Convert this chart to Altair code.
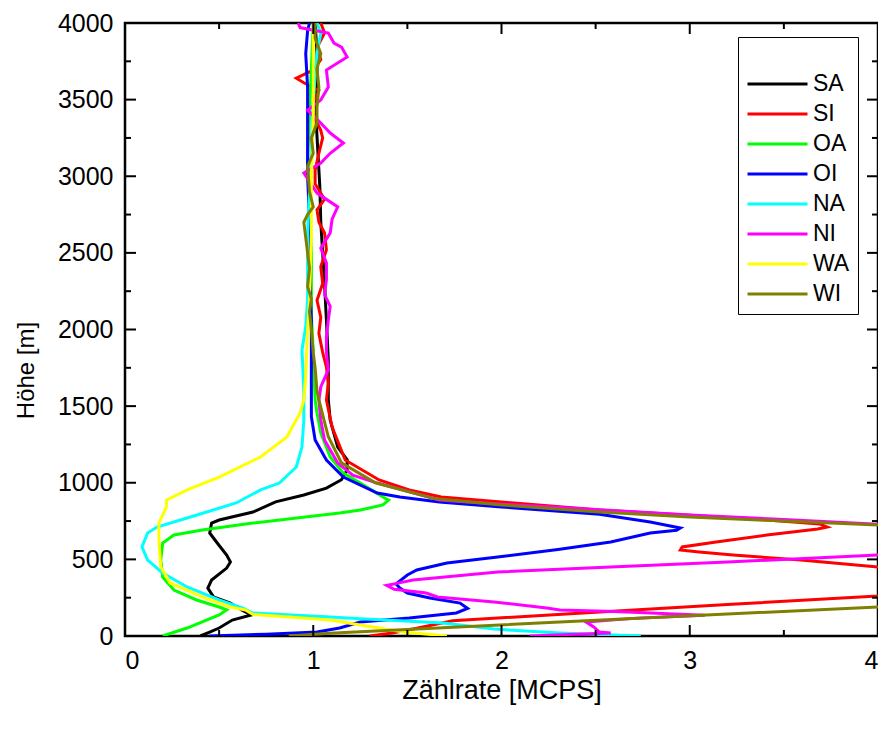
import altair as alt
import pandas as pd

SERIES = ["SA", "SI", "OA", "OI", "NA", "NI", "WA", "WI"]
COLORS = ["#000000", "#ff0000", "#00ff00", "#0000ff", "#00ffff", "#ff00ff", "#ffff00", "#808000"]

# (Zählrate [MCPS], Höhe [m]) along each profile, bottom to top
SA = [(0.40, 0), (0.45, 26), (0.50, 52), (0.57, 104), (0.67, 137), (0.62, 170), (0.56, 215),
      (0.47, 255), (0.44, 313), (0.46, 365), (0.54, 443), (0.56, 483), (0.54, 528), (0.49, 607),
      (0.45, 672), (0.46, 737), (0.50, 757), (0.68, 809), (0.80, 875), (0.95, 920), (1.07, 965),
      (1.15, 1020), (1.18, 1083), (1.18, 1150), (1.13, 1233), (1.09, 1410), (1.08, 1540),
      (1.08, 1800), (1.07, 2060), (1.06, 2300), (1.05, 2500), (1.04, 2700), (1.035, 2930),
      (1.025, 3150), (1.015, 3370), (1.02, 3600), (1.02, 3800), (1.01, 4000)]

SI = [(1.30, 0), (1.42, 20), (1.55, 50), (1.74, 100), (2.50, 155), (3.20, 205), (4.00, 261),
      (4.30, 300), (4.30, 440), (4.00, 450), (3.59, 496), (3.23, 528), (3.05, 548), (2.95, 561),
      (2.96, 581), (3.14, 613), (3.41, 659), (3.68, 698), (3.73, 711), (3.69, 731), (3.41, 757),
      (3.00, 788), (2.52, 822), (2.00, 874), (1.68, 907), (1.51, 953), (1.35, 1018), (1.17, 1148),
      (1.10, 1364), (1.07, 1540), (1.08, 1650), (1.07, 1755), (1.05, 1850), (1.03, 1975),
      (1.04, 2080), (1.02, 2190), (1.05, 2300), (1.04, 2410), (1.07, 2520), (1.06, 2630),
      (1.03, 2700), (1.02, 2780), (1.06, 2850), (1.01, 2950), (1.01, 3040), (1.03, 3150),
      (1.05, 3250), (1.04, 3300), (1.00, 3400), (1.00, 3478), (1.03, 3560), (0.95, 3610),
      (0.91, 3640), (0.96, 3670), (1.00, 3693), (1.04, 3760), (1.02, 3840), (1.06, 3935),
      (1.04, 4000)]

OA = [(0.20, 0), (0.33, 52), (0.50, 137), (0.54, 170), (0.50, 189), (0.38, 235), (0.26, 300),
      (0.20, 385), (0.19, 496), (0.20, 607), (0.26, 659), (0.41, 692), (0.68, 737), (1.14, 802),
      (1.25, 822), (1.37, 855), (1.40, 887), (1.37, 907), (1.25, 998), (1.16, 1063), (1.09, 1168),
      (1.04, 1325), (1.02, 1455), (1.01, 1540), (1.00, 1846), (0.99, 2100), (0.99, 2500),
      (0.98, 2800), (0.97, 3100), (0.98, 3400), (0.99, 3700), (1.00, 4000)]

OI = [(0.45, 0), (0.75, 12), (1.02, 26), (1.14, 52), (1.25, 91), (1.51, 117), (1.76, 150),
      (1.82, 180), (1.78, 215), (1.62, 248), (1.50, 280), (1.46, 313), (1.44, 340), (1.50, 398),
      (1.55, 431), (1.71, 476), (1.98, 516), (2.30, 565), (2.58, 614), (2.79, 672), (2.93, 690),
      (2.95, 705), (2.79, 744), (2.52, 795), (2.00, 842), (1.67, 874), (1.46, 907), (1.34, 933),
      (1.16, 1037), (1.07, 1148), (1.01, 1279), (0.99, 1430), (0.99, 1700), (0.99, 2062),
      (0.98, 2400), (0.98, 2714), (0.97, 3000), (0.97, 3150), (0.97, 3400), (0.97, 3580),
      (0.96, 3800), (0.97, 3950), (0.98, 4000)]

NA = [(2.74, 0), (2.31, 20), (1.96, 45), (1.69, 85), (1.46, 100), (1.25, 112), (1.09, 124),
      (0.68, 150), (0.62, 185), (0.50, 235), (0.33, 320), (0.20, 411), (0.12, 496), (0.09, 581),
      (0.12, 672), (0.17, 711), (0.33, 770), (0.59, 868), (0.72, 953), (0.82, 998), (0.91, 1103),
      (0.94, 1233), (0.95, 1410), (0.95, 1600), (0.94, 1866), (0.96, 2019), (0.97, 2190),
      (0.97, 2400), (0.97, 2630), (0.98, 2900), (0.99, 3200), (1.00, 3500), (1.02, 3800),
      (1.04, 3934), (1.02, 4000)]

NI = [(2.15, 0), (2.40, 12), (2.58, 20), (2.52, 26), (2.49, 59), (2.45, 91), (2.70, 115),
      (3.08, 135), (2.60, 160), (2.31, 170), (2.24, 183), (1.96, 222), (1.66, 255), (1.60, 280),
      (1.43, 305), (1.39, 330), (1.45, 345), (1.53, 365), (1.98, 418), (2.58, 450), (3.20, 483),
      (4.00, 528), (4.40, 560), (4.40, 700), (4.00, 730), (3.50, 760), (3.00, 790), (2.50, 825),
      (2.00, 860), (1.67, 887), (1.34, 998), (1.21, 1050), (1.13, 1129), (1.06, 1279),
      (1.04, 1410), (1.03, 1540), (1.04, 1625), (1.08, 1736), (1.07, 1850), (1.07, 1950),
      (1.08, 2062), (1.09, 2150), (1.06, 2230), (1.07, 2323), (1.07, 2434), (1.04, 2530),
      (1.09, 2630), (1.10, 2720), (1.13, 2800), (1.02, 2890), (0.95, 3021), (1.04, 3086),
      (1.09, 3150), (1.16, 3217), (1.09, 3282), (1.04, 3347), (0.97, 3432), (1.04, 3497),
      (1.08, 3582), (1.07, 3693), (1.18, 3778), (1.15, 3843), (1.11, 3869), (1.08, 3934),
      (0.93, 3970), (0.92, 4000)]

WA = [(1.71, 0), (1.48, 26), (1.25, 72), (1.09, 104), (0.68, 140), (0.64, 170), (0.56, 189),
      (0.41, 255), (0.24, 346), (0.19, 450), (0.18, 626), (0.18, 737), (0.22, 842), (0.22, 887),
      (0.33, 953), (0.50, 1037), (0.72, 1168), (0.86, 1299), (0.93, 1455), (0.95, 1540),
      (0.96, 1700), (0.97, 2000), (0.98, 2190), (0.99, 2630), (0.99, 3000), (1.00, 3400),
      (1.00, 3800), (1.00, 4000)]

WI = [(0.87, 0), (1.09, 18), (1.25, 27), (2.67, 113), (4.00, 189), (4.40, 215), (4.40, 700),
      (4.00, 724), (3.50, 750), (3.00, 777), (2.50, 810), (2.00, 855), (1.65, 895), (1.33, 1000),
      (1.15, 1130), (1.08, 1300), (1.03, 1540), (1.02, 1600), (1.01, 1750), (1.00, 1850),
      (0.99, 2000), (0.98, 2117), (0.99, 2200), (0.97, 2280), (0.98, 2400), (0.97, 2500),
      (0.96, 2600), (0.95, 2700), (0.97, 2750), (1.00, 2800), (0.98, 2900), (0.97, 3065),
      (1.00, 3150), (0.99, 3250), (1.02, 3350), (1.02, 3450), (1.03, 3580), (1.02, 3700),
      (1.04, 3800), (1.01, 3900), (1.01, 4000)]

X_MAJOR = [0, 1, 2, 3, 4]
X_MINOR = [0.5, 1.5, 2.5, 3.5]
Y_MAJOR = list(range(0, 4001, 500))
Y_MINOR = list(range(250, 4000, 500))

rows = []
for name, pts in zip(SERIES, [SA, SI, OA, OI, NA, NI, WA, WI]):
    for i, (x, h) in enumerate(pts):
        rows.append({"series": name, "x": x, "h": h, "i": i})
df = pd.DataFrame(rows)

W, H = 753, 613
FONT = "Liberation Sans"
xs = alt.Scale(domain=[0, 4], nice=False, zero=False)
ys = alt.Scale(domain=[0, 4000], nice=False, zero=False)

XAXIS = alt.Axis(title="Zählrate [MCPS]", values=X_MAJOR, format="d", ticks=False,
                 domain=False, grid=False, labelFontSize=25, titleFontSize=27,
                 labelPadding=12, titlePadding=4)
YAXIS = alt.Axis(title="Höhe [m]", values=Y_MAJOR, format="d", ticks=False,
                 domain=False, grid=False, labelFontSize=25, titleFontSize=24,
                 labelPadding=12, titlePadding=19, titleY=347)

lines = alt.Chart(df).mark_line(strokeWidth=3, clip=True).encode(
    x=alt.X("x:Q", scale=xs, axis=XAXIS),
    y=alt.Y("h:Q", scale=ys, axis=YAXIS),
    color=alt.Color("series:N", sort=SERIES,
                    scale=alt.Scale(domain=SERIES, range=COLORS),
                    legend=alt.Legend(title=" ", orient="none", legendX=613, legendY=14,
                                      symbolType="stroke", symbolSize=3600, symbolStrokeWidth=3,
                                      clipHeight=22, rowPadding=7, labelFontSize=23,
                                      labelFont=FONT, labelOffset=4, padding=8,
                                      strokeColor="black", fillColor="white",
                                      titleFontSize=20, titlePadding=8)),
    order=alt.Order("i:Q"),
)


def xticks(vals, length, bottom):
    d = pd.DataFrame({"x": vals})
    y0 = H if bottom else 0
    y1 = H - length if bottom else length
    return alt.Chart(d).mark_rule(color="black", strokeWidth=2).encode(
        x=alt.X("x:Q", scale=xs, axis=XAXIS), y=alt.value(y0), y2=alt.value(y1))


def yticks(vals, length, left):
    d = pd.DataFrame({"h": vals})
    x0 = 0 if left else W
    x1 = length if left else W - length
    return alt.Chart(d).mark_rule(color="black", strokeWidth=2).encode(
        y=alt.Y("h:Q", scale=ys, axis=YAXIS), x=alt.value(x0), x2=alt.value(x1))


ticks = [
    xticks(X_MAJOR, 11, True), xticks(X_MINOR, 6, True),
    xticks(X_MAJOR, 11, False), xticks(X_MINOR, 6, False),
    yticks(Y_MAJOR, 11, True), yticks(Y_MINOR, 6, True),
    yticks(Y_MAJOR, 11, False), yticks(Y_MINOR, 6, False),
]

chart = alt.layer(lines, *ticks).properties(
    width=W, height=H,
    autosize=alt.AutoSizeParams(type="none"),
    padding={"left": 117, "top": 15, "right": 0, "bottom": 75},
).configure_view(stroke="black", strokeWidth=2.5).configure_axis(
    labelFont=FONT, titleFont=FONT, labelColor="black", titleColor="black",
    titleFontWeight="normal",
).configure_legend(titleFont=FONT)

chart.save("out.html", embed_options={"renderer": "svg", "actions": False})
